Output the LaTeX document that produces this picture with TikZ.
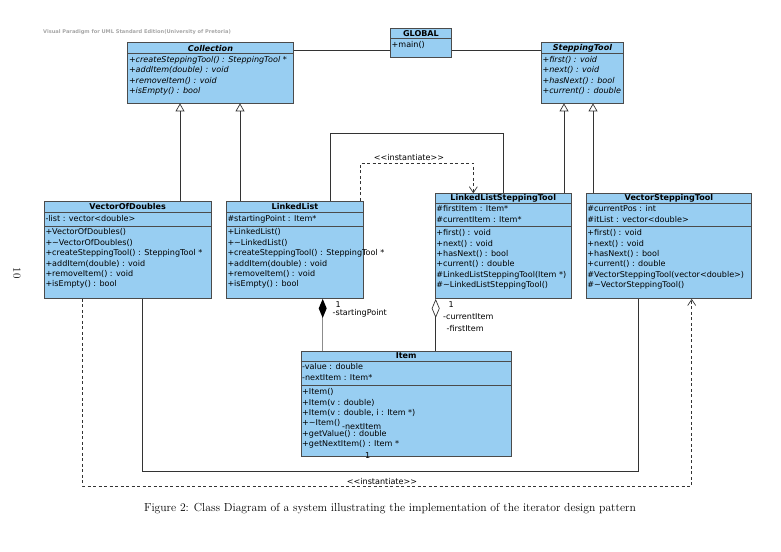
\documentclass[tikz,border=0pt]{standalone}
\usepackage{fontspec}
\setsansfont{DejaVu Sans}
\usetikzlibrary{%
  arrows.meta,%
  calc%
}
\definecolor{boxfill}{RGB}{152,206,242}
\definecolor{boxline}{RGB}{75,75,75}
\newcommand\umlfont{\sffamily\fontsize{8.05}{10.4}\selectfont}
\tikzset{>=latex,
  classbox/.style={draw=boxline, fill=boxfill, line width=0.9pt, inner sep=0pt, anchor=north west},
  ctitle/.style={inner sep=0pt, font=\umlfont\bfseries},
  members/.style={anchor=north west, inner sep=0pt, align=left, font=\umlfont},
  compline/.style={draw=boxline, line width=0.7pt},
  assoc/.style={draw=black!80, line width=0.7pt},
  gener/.style={assoc, -{Triangle[open, length=8pt, width=9pt]}},
  instant/.style={assoc, dash pattern=on 3pt off 2.5pt, -{Straight Barb[length=6pt, width=8pt]}},
  compo/.style={draw=black!45, line width=1.3pt, -{Diamond[length=19pt, width=8pt, color=black]}},
  aggreg/.style={assoc, -{Diamond[open, length=19pt, width=8pt, fill=white]}},
  rolelabel/.style={inner sep=0pt, anchor=west, font=\umlfont}
}

\begin{document}
\begin{tikzpicture}[x=1pt, y=-1pt]
  \useasboundingbox (0,0) rectangle (781,551);
  \node[anchor=west, inner sep=0pt, text=black!35, font=\sffamily\bfseries\fontsize{5.1}{6}\selectfont]
    (vpmark) at (43,31.7) {Visual Paradigm for UML Standard Edition(University of Pretoria)};
  \node[rotate=-90, inner sep=0pt, font=\fontsize{11}{13}\selectfont] (pagenum) at (17,273) {10};

  % top row
  \node[classbox, minimum width=166, minimum height=60] (coll) at (127,42.5) {};
  \draw[compline] (coll.west |- 0,53.3) -- (coll.east |- 0,53.3);
  \node[ctitle] (coll-name) at (coll.north |- 0,48) {\itshape Collection};
  \node[members] (coll-ops) at (128.8,55.9) {\itshape +createSteppingTool() : SteppingTool *\\
    \itshape +addItem(double) : void\\ \itshape +removeItem() : void\\ \itshape +isEmpty() : bool};

  \node[classbox, minimum width=61, minimum height=29.5] (global) at (390,28) {};
  \draw[compline] (global.west |- 0,38.3) -- (global.east |- 0,38.3);
  \node[ctitle] (global-name) at (global.north |- 0,33.3) {GLOBAL};
  \node[members] (global-ops) at (391.5,40.9) {+main()};

  \node[classbox, minimum width=82, minimum height=60] (steptool) at (541,42.5) {};
  \draw[compline] (steptool.west |- 0,53.3) -- (steptool.east |- 0,53.3);
  \node[ctitle] (steptool-name) at (steptool.north |- 0,48) {\itshape SteppingTool};
  \node[members] (steptool-ops) at (542.3,55.9) {\itshape +first() : void\\ \itshape +next() : void\\
    \itshape +hasNext() : bool\\ \itshape +current() : double};

  % middle row
  \node[classbox, minimum width=166.5, minimum height=97.5] (vod) at (44,200.5) {};
  \draw[compline] (vod.west |- 0,212.7) -- (vod.east |- 0,212.7) (vod.west |- 0,226) -- (vod.east |- 0,226);
  \node[ctitle] (vod-name) at (vod.north |- 0,206.4) {VectorOfDoubles};
  \node[members] (vod-attr) at (45.3,215.3) {-list : vector<double>};
  \node[members] (vod-ops) at (45.3,228.6) {+VectorOfDoubles()\\ +\textasciitilde VectorOfDoubles()\\
    +createSteppingTool() : SteppingTool *\\ +addItem(double) : void\\ +removeItem() : void\\ +isEmpty() : bool};

  \node[classbox, minimum width=137, minimum height=97.5] (llist) at (226,200.5) {};
  \draw[compline] (llist.west |- 0,212.7) -- (llist.east |- 0,212.7) (llist.west |- 0,226) -- (llist.east |- 0,226);
  \node[ctitle] (llist-name) at (llist.north |- 0,206.4) {LinkedList};
  \node[members] (llist-attr) at (227.3,215.3) {\#startingPoint : Item*};
  \node[members] (llist-ops) at (227.3,228.6) {+LinkedList()\\ +\textasciitilde LinkedList()\\
    +createSteppingTool() : SteppingTool *\\ +addItem(double) : void\\ +removeItem() : void\\ +isEmpty() : bool};

  \node[classbox, minimum width=135.5, minimum height=104.7] (llstep) at (435,193.3) {};
  \draw[compline] (llstep.west |- 0,203) -- (llstep.east |- 0,203) (llstep.west |- 0,226.7) -- (llstep.east |- 0,226.7);
  \node[ctitle] (llstep-name) at (llstep.north |- 0,198.2) {LinkedListSteppingTool};
  \node[members] (llstep-attr) at (436.2,205.6) {\#firstItem : Item*\\ \#currentItem : Item*};
  \node[members] (llstep-ops) at (436.2,229.3) {+first() : void\\ +next() : void\\ +hasNext() : bool\\
    +current() : double\\ \#LinkedListSteppingTool(Item *)\\ \#\textasciitilde LinkedListSteppingTool()};

  \node[classbox, minimum width=165, minimum height=104.7] (vstep) at (586,193.3) {};
  \draw[compline] (vstep.west |- 0,203) -- (vstep.east |- 0,203) (vstep.west |- 0,226.7) -- (vstep.east |- 0,226.7);
  \node[ctitle] (vstep-name) at (vstep.north |- 0,198.2) {VectorSteppingTool};
  \node[members] (vstep-attr) at (587.2,205.6) {\#currentPos : int\\ \#itList : vector<double>};
  \node[members] (vstep-ops) at (587.2,229.3) {+first() : void\\ +next() : void\\ +hasNext() : bool\\
    +current() : double\\ \#VectorSteppingTool(vector<double>)\\ \#\textasciitilde VectorSteppingTool()};

  % bottom
  \node[classbox, minimum width=210, minimum height=104.7] (item) at (300.7,351) {};
  \draw[compline] (item.west |- 0,361) -- (item.east |- 0,361) (item.west |- 0,385.7) -- (item.east |- 0,385.7);
  \node[ctitle] (item-name) at (item.north |- 0,356) {Item};
  \node[members] (item-attr) at (302,363.6) {-value : double\\ -nextItem : Item*};
  \node[members] (item-ops) at (302,388.3) {+Item()\\ +Item(v : double)\\ +Item(v : double, i : Item *)\\
    +\textasciitilde Item()\\ +getValue() : double\\ +getNextItem() : Item *};
  \node[rolelabel] (item-next) at (342,426.5) {-nextItem};
  \node[rolelabel] (item-mult) at (365,456) {1};

  % connectors
  \draw[assoc] (coll.east |- 0,50) -- (global.west |- 0,50);
  \draw[assoc] (global.east |- 0,50) -- (steptool.west |- 0,50);
  \draw[gener] (180,0 |- vod.north) -- (180,0 |- coll.south);
  \draw[gener] (240,0 |- llist.north) -- (240,0 |- coll.south);
  \draw[gener] (564,0 |- llstep.north) -- (564,0 |- steptool.south);
  \draw[gener] (593,0 |- vstep.north) -- (593,0 |- steptool.south);
  \draw[assoc] (330.5,0 |- llist.north) -- (330.5,133) -- (503.3,133) -- (503.3,0 |- llstep.north);
  \draw[instant] (360.7,0 |- llist.north) -- (360.7,163) -- (473.3,163) -- (473.3,0 |- llstep.north);
  \node[font=\umlfont, inner sep=0pt] (inst-top) at (409,157.5) {<{}<instantiate>{}>};
  \draw[compo] (322.7,0 |- item.north) -- (322.7,0 |- llist.south);
  \node[rolelabel] (sp-mult) at (335.5,305) {1};
  \node[rolelabel] (sp-role) at (332.5,313.3) {-startingPoint};
  \draw[aggreg] (435.7,0 |- item.north) -- (435.7,0 |- llstep.south);
  \node[rolelabel] (ci-mult) at (448.5,305) {1};
  \node[rolelabel] (ci-role) at (443,316.7) {-currentItem};
  \node[rolelabel] (fi-role) at (446.5,328) {-firstItem};
  \draw[assoc] (142.7,0 |- vod.south) -- (142.7,471.7) -- (638,471.7) -- (638,0 |- vstep.south);
  \draw[instant] (82.3,0 |- vod.south) -- (82.3,486) -- (691.7,486) -- (691.7,0 |- vstep.south);
  \node[font=\umlfont, inner sep=0pt] (inst-bottom) at (382,481) {<{}<instantiate>{}>};

  \node[inner sep=0pt, font=\fontsize{11.65}{14}\selectfont] (caption) at (390,508.3)
    {Figure 2: Class Diagram of a system illustrating the implementation of the iterator design pattern};
\end{tikzpicture}
\end{document}
